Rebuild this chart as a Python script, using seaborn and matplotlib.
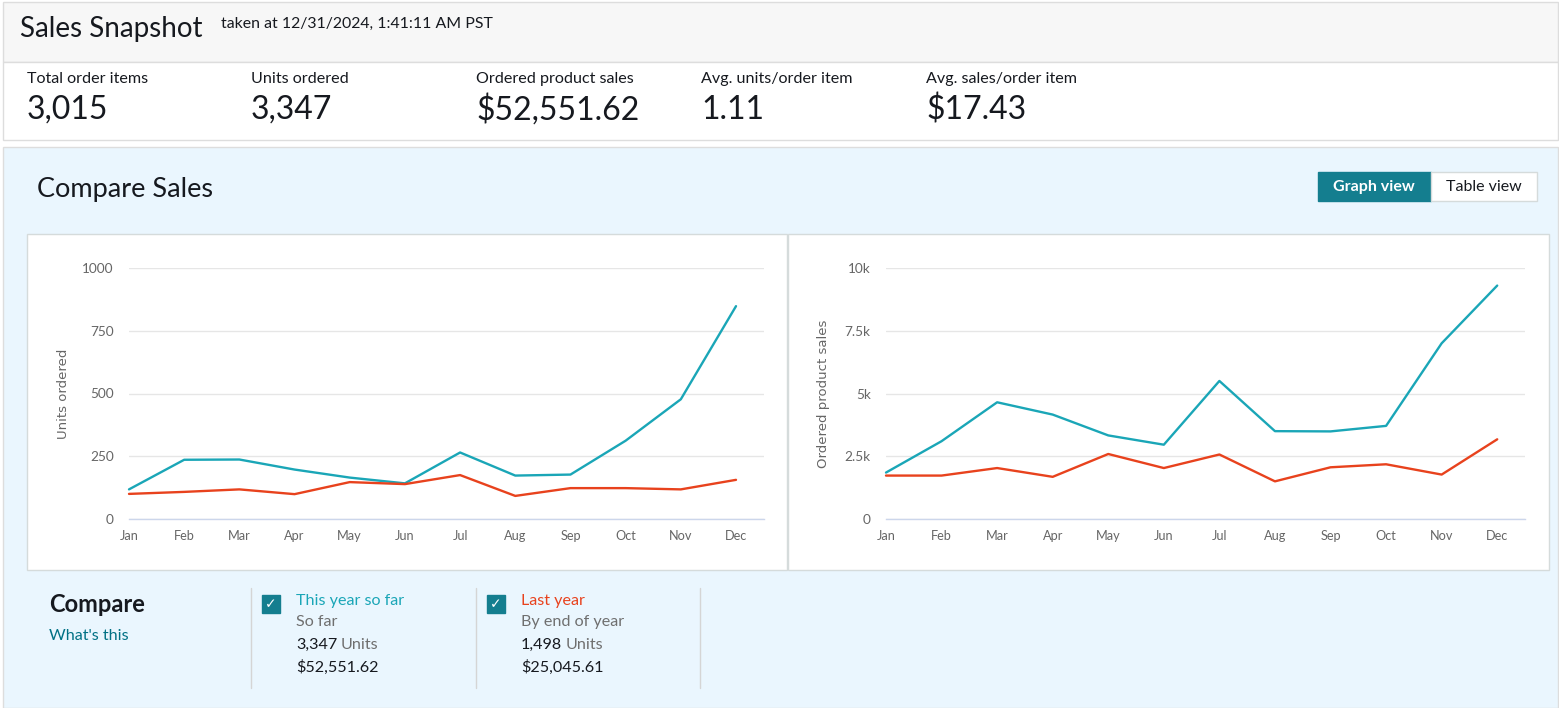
import matplotlib
matplotlib.use('Agg')
import matplotlib.pyplot as plt
import seaborn as sns
import pandas as pd
from matplotlib.patches import Rectangle
from matplotlib.ticker import FuncFormatter

# monthly values
months = ['Jan', 'Feb', 'Mar', 'Apr', 'May', 'Jun', 'Jul', 'Aug', 'Sep', 'Oct', 'Nov', 'Dec']
units_this_year = [118, 236, 237, 197, 165, 142, 265, 173, 177, 312, 477, 848]
units_last_year = [100, 108, 118, 99, 147, 139, 175, 92, 123, 123, 118, 156]
sales_this_year = [1850, 3100, 4650, 4160, 3330, 2960, 5500, 3500, 3490, 3710, 7000, 9300]
sales_last_year = [1730, 1730, 2030, 1680, 2590, 2030, 2570, 1500, 2060, 2180, 1770, 3175]

metric_labels = ['Total order items', 'Units ordered', 'Ordered product sales',
                 'Avg. units/order item', 'Avg. sales/order item']
metric_values = ['3,015', '3,347', '$52,551.62', '1.11', '$17.43']

period_names = ['This year so far', 'Last year']
period_notes = ['So far', 'By end of year']
period_units = ['3,347', '1,498']
period_sales = ['$52,551.62', '$25,045.61']

TEAL = '#1aa6b7'
RED = '#e8421d'
BTN = '#147e8f'
DARK = '#16191f'
GRAY = '#6f6f6f'

df = pd.DataFrame({
    'month': months * 2,
    'units': units_this_year + units_last_year,
    'sales': sales_this_year + sales_last_year,
    'period': [period_names[0]] * 12 + [period_names[1]] * 12,
})

sns.set_theme(style='white')
plt.rcParams['font.family'] = ['Lato', 'DejaVu Sans']

W, H = 1559, 708
fig = plt.figure(figsize=(W / 100, H / 100), dpi=100)
fig.patch.set_facecolor('white')

# background layer in pixel coords
bg = fig.add_axes([0, 0, 1, 1])
bg.set_xlim(0, W)
bg.set_ylim(H, 0)
bg.axis('off')


def rect(x0, y0, x1, y1, fc, ec='none', lw=1.0):
    bg.add_patch(Rectangle((x0, y0), x1 - x0, y1 - y0, facecolor=fc, edgecolor=ec, linewidth=lw))


def txt(x, y, s, size, color=DARK, **kw):
    # Lato sits a little high with va=center, nudge down
    bg.text(x, y + 2, s, fontsize=size, color=color, va='center', **kw)


def box(x0, y0, x1, y1):
    return [x0 / W, 1 - y1 / H, (x1 - x0) / W, (y1 - y0) / H]


# header + metrics
rect(3, 2, 1558, 62, '#f7f7f7', '#dddddd')
rect(3, 62, 1558, 140, 'white', '#dddddd')
txt(20, 27, 'Sales Snapshot', 20)
txt(221, 22, 'taken at 12/31/2024, 1:41:11 AM PST', 11.4)
metric_x = [27, 251, 476, 701, 926]
for x, lab, val in zip(metric_x, metric_labels, metric_values):
    txt(x, 77, lab, 11.6)
    txt(x, 108, val, 23)

# compare panel
rect(3, 147, 1558, 708, '#eaf6fe', '#dddddd')
txt(37, 187, 'Compare Sales', 19.5)
rect(1318, 172, 1431, 201, BTN, BTN)
rect(1431, 172, 1537, 201, 'white', '#d5dbdb')
txt(1374, 185, 'Graph view', 11.5, 'white', ha='center', fontweight='bold')
txt(1484, 185, 'Table view', 11.5, DARK, ha='center')

rect(27, 234, 787, 570, 'white', '#d5dbdb')
rect(788, 234, 1549, 570, 'white', '#d5dbdb')

# legend area
txt(49, 602, 'Compare', 17, DARK, fontweight='bold')
txt(49, 634, "What's this", 11.6, '#007185')
for x in [251, 476, 700]:
    bg.plot([x, x], [588, 688], color='#d5d5d5', lw=1)
cols = [(262, 296, 341, TEAL), (487, 521, 566, RED)]
for (cx, tx, ux, c), name, note, un, sl in zip(cols, period_names, period_notes, period_units, period_sales):
    rect(cx, 595, cx + 18, 613, BTN, BTN)
    bg.text(cx + 9, 604.5, '\u2713', fontsize=10, color='white', ha='center', va='center',
            family='DejaVu Sans')
    txt(tx, 599, name, 11.6, c)
    txt(tx, 620, note, 11.6, GRAY)
    txt(tx, 643, un, 11.6, DARK)
    txt(ux, 643, 'Units', 11.6, GRAY)
    txt(tx, 665, sl, 11.6, DARK)

palette = {period_names[0]: TEAL, period_names[1]: RED}


def draw_chart(rect_px, ycol, ylim, yticks, ylabel, fmt, label_x):
    ax = fig.add_axes(box(*rect_px))
    ax.set_facecolor('none')
    sns.lineplot(data=df, x='month', y=ycol, hue='period', palette=palette, legend=False,
                 sort=False, linewidth=1.7, ax=ax)
    for ln in ax.lines:
        ln.set_clip_on(False)
    ax.set_xlim(0, 11.5)
    ax.set_ylim(*ylim)
    ax.set_yticks(yticks)
    ax.yaxis.set_major_formatter(FuncFormatter(fmt))
    ax.grid(axis='y', color='#e6e6e6', lw=1)
    ax.grid(axis='x', visible=False)
    for s in ['top', 'right', 'left']:
        ax.spines[s].set_visible(False)
    ax.spines['bottom'].set_color('#ccd6eb')
    ax.spines['bottom'].set_linewidth(1)
    ax.tick_params(axis='y', length=0, pad=11, labelsize=9.8, labelcolor='#666666')
    ax.tick_params(axis='x', length=0, pad=8, labelsize=9.2, labelcolor='#666666')
    ax.set_xlabel('')
    ax.set_ylabel(ylabel, fontsize=9.5, color='#666666', family='DejaVu Sans')
    ax.yaxis.set_label_coords(label_x, 0.5)
    return ax


draw_chart((129, 268, 763.6, 519), 'units', (0, 1000), [0, 250, 500, 750, 1000],
           'Units ordered', lambda v, p: f'{v:.0f}', -0.093)
draw_chart((886, 268, 1525, 519), 'sales', (0, 10000), [0, 2500, 5000, 7500, 10000],
           'Ordered product sales',
           lambda v, p: '0' if v == 0 else f'{v / 1000:g}k', -0.088)

fig.savefig('out.png', dpi=100)
